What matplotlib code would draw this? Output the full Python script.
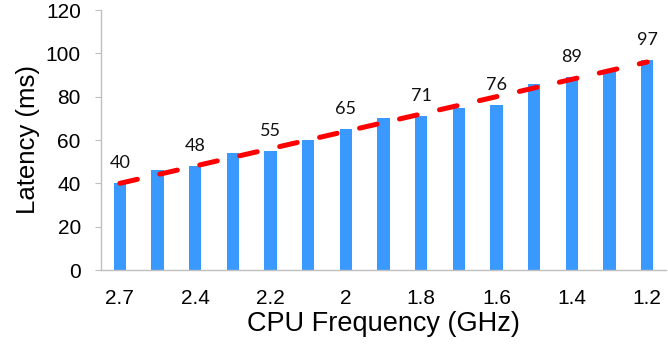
import matplotlib
matplotlib.use("Agg")
import matplotlib.pyplot as plt
import numpy as np

# Data
freq_labels = ["2.7", "", "2.4", "", "2.2", "", "2", "", "1.8", "", "1.6", "", "1.4", "", "1.2"]
latency = [40, 46, 48, 54, 55, 60, 65, 70, 71, 75, 76, 86, 89, 92, 97]
label_idx = [0, 2, 4, 6, 8, 10, 12, 14]
trend_x = [0, 14]
trend_y = [40, 96]
yticks = [0, 20, 40, 60, 80, 100, 120]

fig = plt.figure(figsize=(6.68, 3.49), dpi=100)
ax = fig.add_axes([101/668, 1-270/349, (666-101)/668, 260/349])

x = np.arange(len(latency))
ax.bar(x, latency, width=0.32, color="#3A99FF", zorder=2)
ax.plot(trend_x, trend_y, color="#FF0000", lw=3.6, dashes=(3.6, 4.6),
        dash_capstyle="round", zorder=3)

for i in label_idx:
    ax.annotate(str(latency[i]), (x[i], latency[i]), xytext=(0, 14.5),
                textcoords="offset points", ha="center", va="center",
                fontsize=13, family="Lato", color="#111111", zorder=4)

ax.set_xlim(-0.5, len(latency) - 0.5)
ax.set_ylim(0, 120)
ax.set_yticks(yticks)
ax.set_xticks(x)
ax.set_xticklabels(freq_labels)

for s in ["top", "right"]:
    ax.spines[s].set_visible(False)
for s in ["left", "bottom"]:
    ax.spines[s].set_color("#BFBFBF")
    ax.spines[s].set_linewidth(1.0)

ax.tick_params(axis="y", length=4.5, color="#BFBFBF", pad=10, labelsize=15)
ax.tick_params(axis="x", length=0, pad=14, labelsize=15)
for lab in ax.get_xticklabels() + ax.get_yticklabels():
    lab.set_family("Liberation Sans")

ax.set_xlabel("CPU Frequency (GHz)", fontsize=19.5, family="Liberation Sans", labelpad=2)
ax.set_ylabel("Latency (ms)", fontsize=18.5, family="Liberation Sans", labelpad=4)

fig.savefig("out.png", dpi=100)
